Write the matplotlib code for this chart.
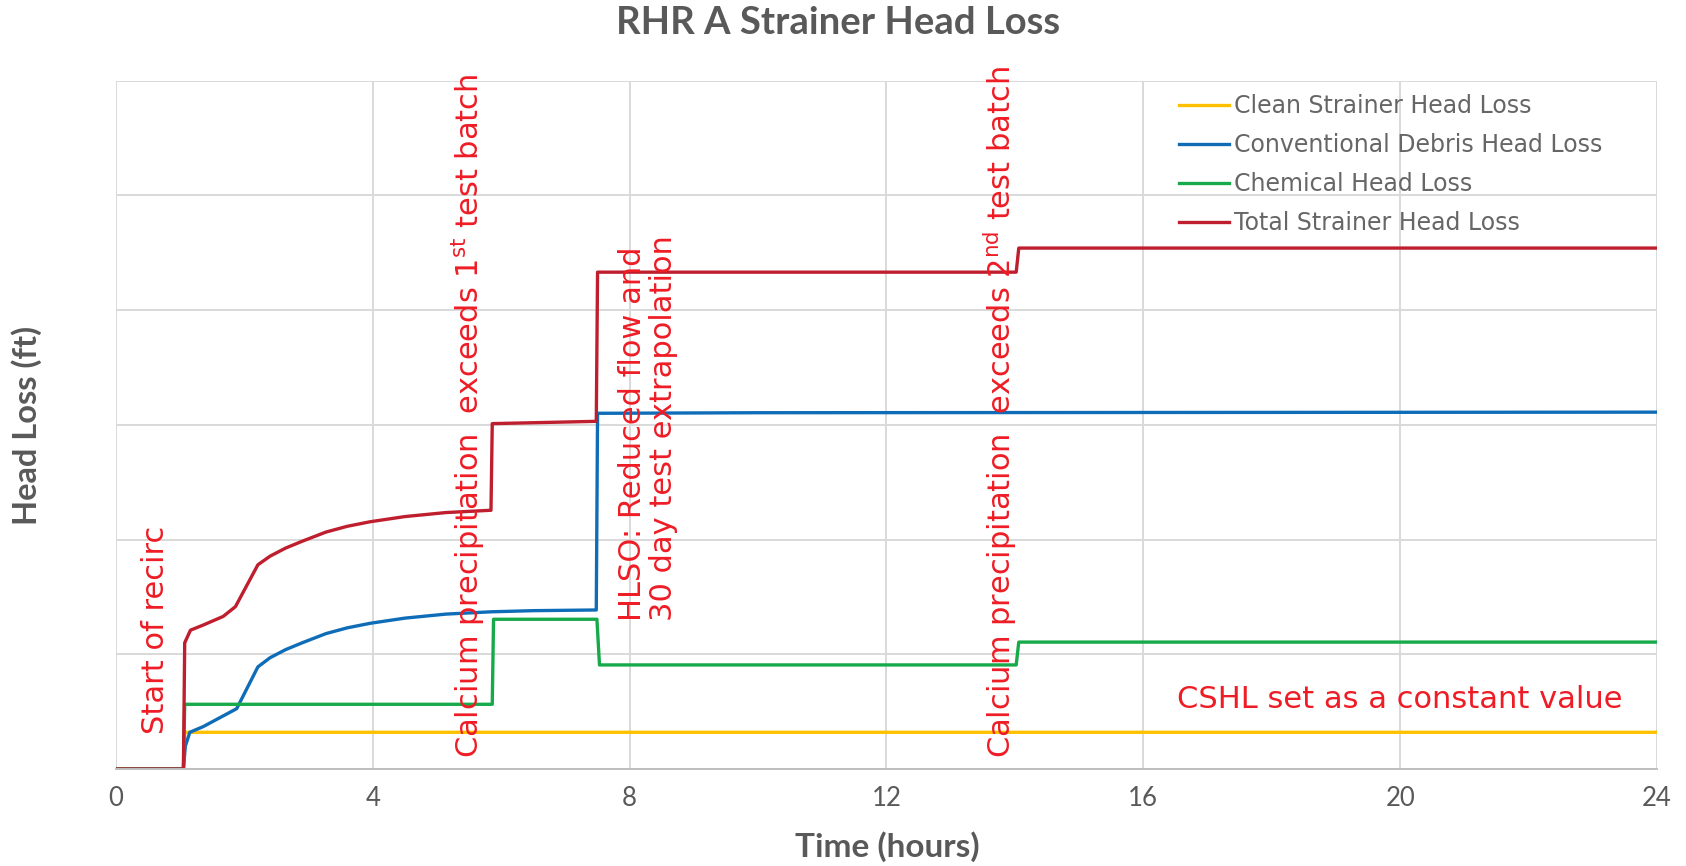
#RHR A strainer head loss chart
import matplotlib
matplotlib.use('Agg')
import matplotlib.pyplot as plt

plt.rcParams['font.family'] = ['Lato', 'DejaVu Sans']
plt.rcParams['mathtext.fontset'] = 'custom'
plt.rcParams['mathtext.rm'] = 'DejaVu Sans'

#values (head loss in grid units, y labels are hidden)
t_clean = [0, 1.05, 1.07, 24]
clean = [0, 0, 0.32, 0.32]

t_conv = [0, 1.05, 1.08, 1.15, 1.36, 1.88, 2.21, 2.4, 2.64, 2.9, 3.27, 3.6, 3.96, 4.5, 5.14, 5.84, 6.5, 7.48, 7.50, 10, 24]
conv = [0, 0, 0.20, 0.32, 0.37, 0.526, 0.89, 0.97, 1.04, 1.10, 1.18, 1.23, 1.27, 1.315, 1.35, 1.37, 1.38, 1.386, 3.10, 3.105, 3.11]

t_chem = [0, 1.05, 1.07, 5.86, 5.88, 7.49, 7.53, 14.02, 14.06, 24]
chem = [0, 0, 0.564, 0.564, 1.305, 1.305, 0.907, 0.907, 1.106, 1.106]

t_total = [0, 1.05, 1.07, 1.16, 1.36, 1.67, 1.86, 2.21, 2.4, 2.64, 2.9, 3.27, 3.6, 3.96, 4.5, 5.14, 5.84, 5.86, 7.48, 7.50, 14.02, 14.06, 24]
total = [0, 0, 1.10, 1.21, 1.255, 1.33, 1.415, 1.78, 1.855, 1.925, 1.985, 2.065, 2.115, 2.155, 2.2, 2.235, 2.255, 3.01, 3.03, 4.33, 4.33, 4.54, 4.54]

x_ticks = [0, 4, 8, 12, 16, 20, 24]

fig = plt.figure(figsize=(16.86, 8.66), dpi=100)
ax = fig.add_axes([0.0688, 0.112, 0.914, 0.795])

lw = 2.4
ax.plot(t_clean, clean, color='#FFC000', lw=lw, label='Clean Strainer Head Loss')
ax.plot(t_conv, conv, color='#0F6DB8', lw=lw, label='Conventional Debris Head Loss')
ax.plot(t_chem, chem, color='#17AA4A', lw=lw, label='Chemical Head Loss')
ax.plot(t_total, total, color='#BE1E2D', lw=lw, label='Total Strainer Head Loss')

ax.set_xlim(0, 24)
ax.set_ylim(0, 6)
ax.set_xticks(x_ticks)
ax.set_yticks(range(7))
ax.set_yticklabels([])
ax.tick_params(axis='both', length=0)
ax.tick_params(axis='x', labelsize=18.5, labelcolor='#595959', pad=12)
ax.grid(True, color='#D9D9D9', lw=1.4)
ax.set_axisbelow(True)
for s in ['top', 'right', 'left']:
    ax.spines[s].set_visible(False)
ax.spines['bottom'].set_color('#BFBFBF')
ax.spines['bottom'].set_linewidth(1.4)

fig.text(0.497, 0.973, 'RHR A Strainer Head Loss', ha='center', va='center',
         fontsize=27.5, fontweight='bold', color='#595959')
fig.text(0.526, 0.022, 'Time (hours)', ha='center', va='center',
         fontsize=24, fontweight='bold', color='#595959')
fig.text(0.016, 0.509, 'Head Loss (ft)', ha='center', va='center', rotation=90,
         fontsize=23.5, fontweight='bold', color='#595959')

leg = ax.legend(loc='upper left', bbox_to_anchor=(0.676, 1.011), frameon=False,
                prop={'family': 'DejaVu Sans', 'size': 17},
                handlelength=2.1, handletextpad=0.25, labelspacing=0.63)
for txt in leg.get_texts():
    txt.set_color('#666666')

red = '#EE1C25'
fs = 22
ann = dict(color=red, fontsize=fs, family='DejaVu Sans')
ax.text(0.62, 0.305, 'Start of recirc', rotation=90, ha='center', va='bottom', **ann)
ax.text(5.48, 0.096, r'Calcium precipitation  exceeds 1$^{\mathrm{st}}$ test batch', rotation=90,
        ha='center', va='bottom', **ann)
ax.text(8.29, 1.286, 'HLSO: Reduced flow and\n30 day test extrapolation', rotation=90,
        ha='center', va='bottom', multialignment='left', linespacing=1.1, **ann)
ax.text(13.77, 0.096, r'Calcium precipitation  exceeds 2$^{\mathrm{nd}}$ test batch', rotation=90,
        ha='center', va='bottom', **ann)
ax.text(20.0, 0.61, 'CSHL set as a constant value', ha='center', va='center', **ann)

fig.savefig('out.png', dpi=100)
